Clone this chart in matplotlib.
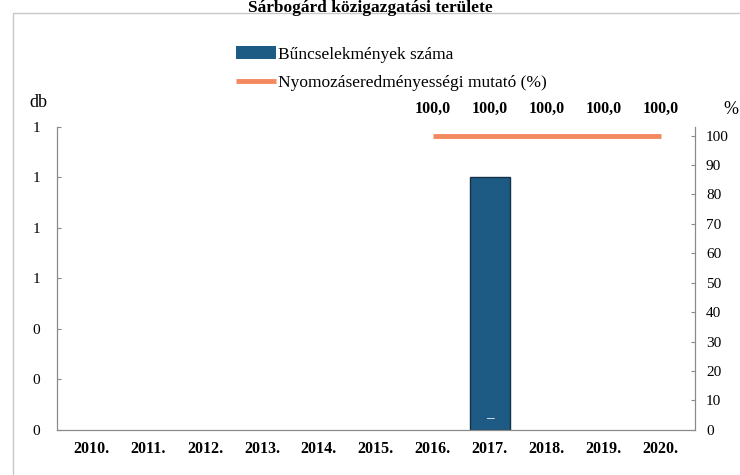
import matplotlib
matplotlib.use("Agg")
import matplotlib.pyplot as plt
import numpy as np
from matplotlib.patches import Rectangle
from matplotlib.ticker import FuncFormatter

plt.rcParams['font.family'] = ['Liberation Serif', 'DejaVu Serif']

# data
years = ['2010.', '2011.', '2012.', '2013.', '2014.', '2015.', '2016.',
         '2017.', '2018.', '2019.', '2020.']
crimes = [0, 0, 0, 0, 0, 0, 0, 1, 0, 0, 0]
clear_rate = [np.nan, np.nan, np.nan, np.nan, np.nan, np.nan, 100.0,
              100.0, 100.0, 100.0, 100.0]
left_ticks = [0, 0.2, 0.4, 0.6, 0.8, 1.0, 1.2]
right_ticks = [0, 10, 20, 30, 40, 50, 60, 70, 80, 90, 100]

bar_color = '#1d5b84'
line_color = '#f4895f'
axis_color = '#8a8a8a'

fig = plt.figure(figsize=[7.4, 4.75], dpi=100)
ax = fig.add_axes([0.077, 0.095, 0.862, 0.638])
ax2 = ax.twinx()

x = np.arange(len(years))
edge_w = [1.0 if v > 0 else 0 for v in crimes]
bars = ax.bar(x, crimes, width=0.7, color=bar_color, edgecolor='#16324a',
              linewidth=edge_w, label='Bűncselekmények száma', zorder=2)
for xi, v in zip(x, crimes):
    if v > 0:
        ax.text(xi, 0.045, '–', color='white', ha='center', va='center',
                fontsize=11, fontweight='bold', zorder=3)

ax2.plot(x, clear_rate, color=line_color, lw=3.5, solid_capstyle='butt',
         label='Nyomozáseredményességi mutató (%)')
for xi, v in zip(x, clear_rate):
    if not np.isnan(v):
        ax2.text(xi, v + 6.5, f"{v:.1f}".replace('.', ','), ha='center',
                 va='bottom', fontsize=11.5, fontweight='bold', clip_on=False)

ax.set_xlim(-0.6, len(years) - 0.4)
ax.set_ylim(0, 1.2)
ax2.set_ylim(0, 103)
ax.set_yticks(left_ticks)
ax.yaxis.set_major_formatter(FuncFormatter(lambda v, p: f"{v:.0f}"))
ax2.set_yticks(right_ticks)
ax.set_xticks(x)
ax.set_xticklabels(years, fontweight='bold', fontsize=11.5)

for a in (ax, ax2):
    a.spines['top'].set_visible(False)
    for s in ('left', 'right', 'bottom'):
        a.spines[s].set_color(axis_color)
    a.tick_params(axis='y', direction='in', length=3, color=axis_color,
                  labelsize=11, pad=12)
ax.tick_params(axis='x', length=0, pad=8)
ax2.tick_params(axis='y', pad=8)

fig.text(0.052, 0.775, 'db', fontsize=13, ha='center')
fig.text(0.988, 0.76, '%', fontsize=13, ha='center')

# legend drawn as two stacked rows
h1, l1 = ax.get_legend_handles_labels()
h2, l2 = ax2.get_legend_handles_labels()
leg = fig.legend(h1 + h2, l1 + l2, loc='upper left',
                 bbox_to_anchor=(0.298, 0.935), frameon=False, fontsize=12.5,
                 handlelength=2.3, handletextpad=0.1, labelspacing=0.7)

fig.text(0.5, 0.984, 'Sárbogárd közigazgatási területe', ha='center',
         va='center', fontsize=12.5, fontweight='bold')
fig.patches.append(Rectangle((0.018, -0.1), 1.2, 1.073,
                             transform=fig.transFigure, fill=False,
                             edgecolor='#c8c8c8', lw=1))

fig.savefig('out.png', dpi=100)
